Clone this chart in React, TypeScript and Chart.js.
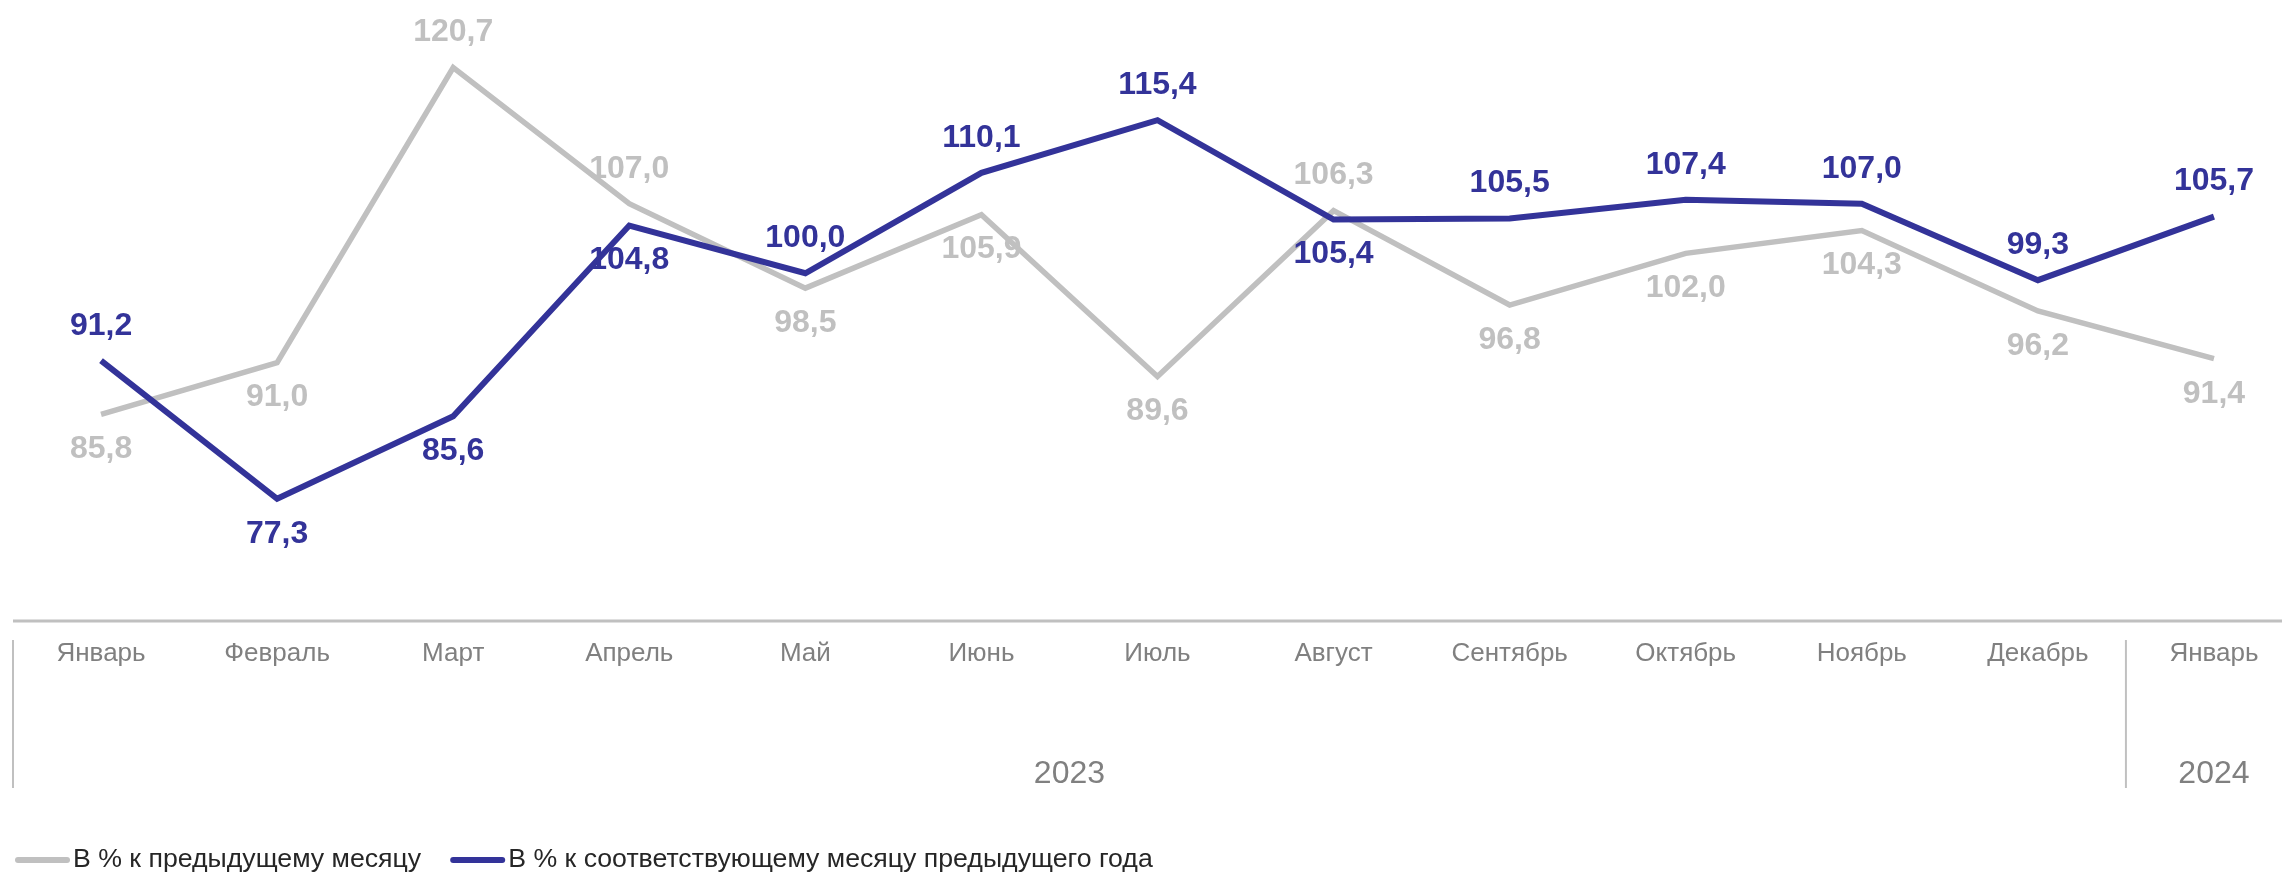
import React, { useEffect, useRef } from "react";
import { Chart, registerables } from "chart.js";

Chart.register(...registerables);

const months = ["Январь", "Февраль", "Март", "Апрель", "Май", "Июнь", "Июль", "Август", "Сентябрь", "Октябрь", "Ноябрь", "Декабрь", "Январь"];
const years = ["2023", "2024"];
const yearSpans = [12, 1];
const momValues = [85.8, 91.0, 120.7, 107.0, 98.5, 105.9, 89.6, 106.3, 96.8, 102.0, 104.3, 96.2, 91.4];
const yoyValues = [91.2, 77.3, 85.6, 104.8, 100.0, 110.1, 115.4, 105.4, 105.5, 107.4, 107.0, 99.3, 105.7];
const momLabelPos = ["below", "below", "above", "above", "below", "below", "below", "above", "below", "below", "below", "below", "below"];
const yoyLabelPos = ["above", "below", "below", "below", "above", "above", "above", "below", "above", "above", "above", "above", "above"];
const seriesNames = ["В % к предыдущему месяцу", "В % к соответствующему месяцу предыдущего года"];

const W = 2282;
const CW = 2302;
const H = 875;
const GRAY = "#c0c0c0";
const BLUE = "#333399";
const FONT = "'Liberation Sans', Arial, sans-serif";

const fmt = (v: number) => v.toFixed(1).replace(".", ",");

const decorPlugin = {
  id: "decor",
  afterDatasetsDraw(chart: any) {
    const ctx = chart.ctx as CanvasRenderingContext2D;
    const area = chart.chartArea;
    const xs = chart.scales.x;
    const axisY = area.bottom;
    ctx.save();

    // axis line
    ctx.strokeStyle = GRAY;
    ctx.lineWidth = 3;
    ctx.beginPath();
    ctx.moveTo(area.left, axisY);
    ctx.lineTo(CW, axisY);
    ctx.stroke();

    // month labels
    ctx.fillStyle = "#808080";
    ctx.font = `26px ${FONT}`;
    ctx.textAlign = "center";
    ctx.textBaseline = "middle";
    months.forEach((m, i) => {
      ctx.fillText(m, xs.getPixelForValue(i), axisY + 33);
    });

    // group separators and year labels
    const step = xs.getPixelForValue(1) - xs.getPixelForValue(0);
    let start = 0;
    ctx.lineWidth = 2;
    ctx.strokeStyle = GRAY;
    ctx.font = `32px ${FONT}`;
    years.forEach((y, g) => {
      const x0 = xs.getPixelForValue(start) - step / 2;
      const x1 = xs.getPixelForValue(start + yearSpans[g] - 1) + step / 2;
      ctx.beginPath();
      ctx.moveTo(x0, axisY + 19);
      ctx.lineTo(x0, axisY + 167);
      ctx.stroke();
      ctx.fillText(y, (x0 + x1) / 2, axisY + 153);
      start += yearSpans[g];
    });

    // data labels
    ctx.font = `bold 32px ${FONT}`;
    const drawLabels = (dsIndex: number, values: number[], pos: string[], color: string) => {
      const meta = chart.getDatasetMeta(dsIndex);
      ctx.fillStyle = color;
      values.forEach((v, i) => {
        const pt = meta.data[i];
        const dy = pos[i] === "above" ? -35 : 35;
        ctx.fillText(fmt(v), pt.x, pt.y + dy);
      });
    };
    drawLabels(0, momValues, momLabelPos, GRAY);
    drawLabels(1, yoyValues, yoyLabelPos, BLUE);

    // legend
    const ly = 860;
    ctx.font = `26.7px ${FONT}`;
    ctx.textAlign = "left";
    ctx.lineCap = "round";
    ctx.lineWidth = 6;
    let lx = 18;
    [GRAY, BLUE].forEach((c, i) => {
      ctx.strokeStyle = c;
      ctx.beginPath();
      ctx.moveTo(lx, ly);
      ctx.lineTo(lx + 49, ly);
      ctx.stroke();
      ctx.fillStyle = "#262626";
      ctx.fillText(seriesNames[i], lx + 55, ly);
      lx = lx + 55 + ctx.measureText(seriesNames[i]).width + 32;
    });
    ctx.restore();
  },
};

export default function App() {
  const ref = useRef<HTMLCanvasElement | null>(null);
  useEffect(() => {
    document.body.style.margin = "0";
    const chart = new Chart(ref.current as HTMLCanvasElement, {
      type: "line",
      data: {
        labels: months,
        datasets: [
          {
            label: seriesNames[0],
            data: momValues,
            borderColor: GRAY,
            backgroundColor: GRAY,
            borderWidth: 5.5,
            pointRadius: 0,
            tension: 0,
            order: 2,
          },
          {
            label: seriesNames[1],
            data: yoyValues,
            borderColor: BLUE,
            backgroundColor: BLUE,
            borderWidth: 6,
            pointRadius: 0,
            tension: 0,
            order: 1,
          },
        ],
      },
      options: {
        responsive: false,
        animation: false,
        layout: { padding: { left: 13, right: 0, top: 0, bottom: 254 } },
        plugins: { legend: { display: false }, tooltip: { enabled: false } },
        scales: {
          x: { display: false, offset: true },
          y: { display: false, min: 65, max: 127.5 },
        },
      },
      plugins: [decorPlugin],
    });
    return () => chart.destroy();
  }, []);
  return (
    <div style={{ position: "fixed", left: 0, top: 0, width: W, height: H, overflow: "hidden", background: "#fff" }}>
      <canvas ref={ref} width={CW} height={H} style={{ display: "block" }} />
    </div>
  );
}
